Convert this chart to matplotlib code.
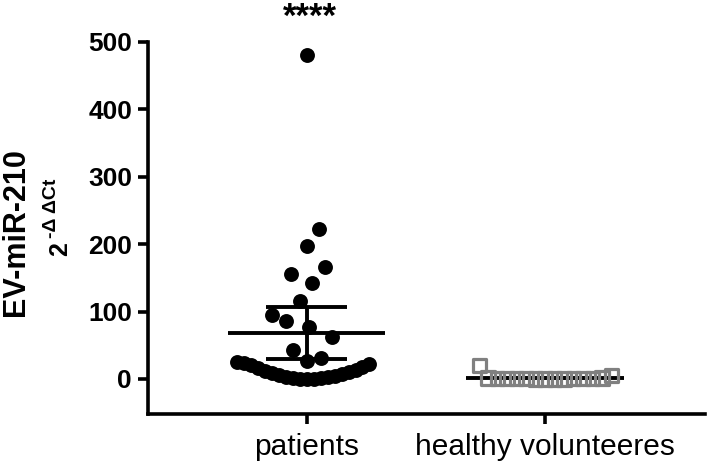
import numpy as np
import matplotlib
matplotlib.use("Agg")
import matplotlib.pyplot as plt

plt.rcParams['font.family'] = ['Liberation Sans', 'DejaVu Sans']

categories = ['patients', 'healthy volunteeres']

patients = [481, 222, 197, 166, 156, 142, 116, 95, 86, 77, 62, 43, 31, 26,
            25, 24, 22, 20, 18, 16, 14, 12, 10.5, 9, 7.5, 6, 4.5, 3.5, 2.5, 1.5, 1, 0.5, 0.2, 0]
healthy = [20, 5, 1.5, 1.2, 1.0, 0.9, 0.8, 0.7, 0.6, 0.5, 0.4, 0.3, 0.2, 0.1, 0.05]

# mean and error bar limits
means = [68, 1.5]
err_low = [30, 1.0]
err_high = [107, 2.0]

yticks = [0, 100, 200, 300, 400, 500]


def swarm(ax, x0, values, size, base=None, base_size=None, mixed=None):
    # simple beeswarm, worked out in pixel space from the axis scales
    # size = (rx, ry) of the collision ellipse in pixels
    t = ax.transData
    p0 = t.transform((x0, 0))
    px_x = t.transform((x0 + 1, 0))[0] - p0[0]
    px_y = t.transform((x0, 1))[1] - p0[1]
    values = np.asarray(values, float)
    low = values <= base if base is not None else np.zeros(len(values), bool)
    order = list(np.argsort(values))
    order = [i for i in order if low[i]] + [i for i in order if not low[i]]

    def gap(i, j):
        if low[i] and low[j]:
            return base_size
        if low[i] or low[j]:
            return mixed
        return size

    placed = []
    xs = np.zeros(len(values))
    for i in order:
        y = values[i] * px_y
        cands = [0.0]
        for (j, px, py) in placed:
            a, b = gap(i, j)
            d = (y - py) / b
            if abs(d) < 1:
                w = np.sqrt(1 - d * d) * a
                cands += [px - w, px + w]
        cands = sorted(cands, key=lambda c: (round(abs(c), 6), -c))
        for c in cands:
            ok = True
            for (j, px, py) in placed:
                a, b = gap(i, j)
                if ((c - px) / a) ** 2 + ((y - py) / b) ** 2 < 0.999:
                    ok = False
                    break
            if ok:
                placed.append((i, c, y))
                xs[i] = x0 + c / px_x
                break
    return xs


fig = plt.figure(figsize=(7.09, 4.66), dpi=100)
ax = fig.add_axes([0.2088, 0.1116, 0.994 - 0.2088, 0.9099 - 0.1116])
ax.set_xlim(-0.665, 1.67)
ax.set_ylim(-52, 500)

xp = swarm(ax, 0, patients, (14, 35), base=25, base_size=(7, 30), mixed=(11, 11))
xh = swarm(ax, 1, healthy, (9.5, 30))

ax.scatter(xp, patients, s=115, c='black', zorder=3, linewidths=0)

for i, x in enumerate([0, 1]):
    ax.hlines(means[i], x - 0.33, x + 0.33, color='black', lw=2.8, zorder=4)
    ax.hlines([err_low[i], err_high[i]], x - 0.17, x + 0.17, color='black', lw=2.8, zorder=4)
    ax.vlines(x, err_low[i], err_high[i], color='black', lw=2.8, zorder=4)

ax.scatter(xh, healthy, s=95, marker='s', facecolors='none',
           edgecolors='#808080', linewidths=2.3, zorder=5)

fig.text(ax.transData.transform((0, 0))[0] / 709 + 0.005, 0.999, '****',
         ha='center', va='top', fontsize=25, fontweight='bold')

ax.spines['top'].set_visible(False)
ax.spines['right'].set_visible(False)
ax.spines['left'].set_linewidth(2.6)
ax.spines['bottom'].set_linewidth(2.6)

ax.set_yticks(yticks)
ax.set_yticklabels([str(v) for v in yticks], fontsize=19, fontweight='bold')
ax.set_xticks([0, 1])
ax.set_xticklabels(categories, fontsize=21.5)
ax.tick_params(axis='both', width=2.6, length=7.5, direction='out')
ax.tick_params(axis='y', pad=4)
ax.tick_params(axis='x', pad=6)

fig.text(16 / 709, 1 - 232 / 466, 'EV-miR-210', rotation=90, ha='center', va='center',
         fontsize=22, fontweight='bold')
fig.text(60 / 709, 1 - 249 / 466, '2', rotation=90, ha='center', va='center',
         fontsize=18, fontweight='bold')
fig.text(52 / 709, 1 - 208 / 466, '-\u0394 \u0394Ct', rotation=90, ha='center', va='center',
         fontsize=14, fontweight='bold')

fig.savefig('out.png', dpi=100)
